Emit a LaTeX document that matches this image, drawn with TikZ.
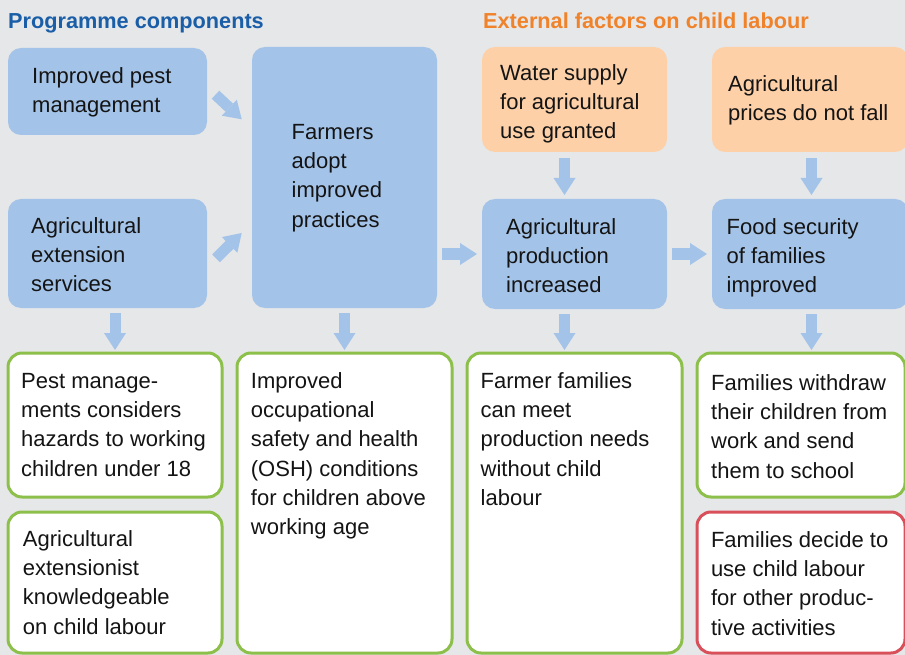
\documentclass[tikz,border=0pt]{standalone}
\usepackage{fontspec}
\setmainfont{Liberation Sans}
\usetikzlibrary{arrows.meta,calc}
\definecolor{bg}{HTML}{E6E7E9}
\definecolor{bfill}{HTML}{A4C3E8}
\definecolor{ofill}{HTML}{FDD0A8}
\definecolor{gline}{HTML}{8CC04B}
\definecolor{rline}{HTML}{D9505A}
\definecolor{hblue}{HTML}{1A5EA8}
\definecolor{horange}{HTML}{F0822A}
\newcommand\firstln{\rule{0pt}{17pt}}
\begin{document}
\begin{tikzpicture}[x=1pt,y=-1pt,
  boxbase/.style={anchor=north west, inner sep=0pt, outer sep=0pt},
  bluebox/.style={boxbase, fill=bfill, draw=none, rounded corners=13pt},
  orangebox/.style={boxbase, fill=ofill, draw=none, rounded corners=13pt},
  greenbox/.style={boxbase, fill=white, draw=gline, line width=3pt, rounded corners=14pt},
  redbox/.style={boxbase, fill=white, draw=rline, line width=3pt, rounded corners=14pt},
  txt/.style={font=\fontsize{22}{29.3}\selectfont, align=left, anchor=north west, inner sep=0pt, text=black!92},
  head/.style={font=\fontsize{21.7}{26}\selectfont\bfseries, anchor=base west, inner sep=0pt},
  barrow/.style={draw=bfill, line width=11pt, -{Triangle[length=17pt,width=22pt,line width=0pt]}, shorten <=5pt, shorten >=4pt}
]
\useasboundingbox (0,0) rectangle (905,655);
\fill[bg] (0,0) rectangle (905,655);
\clip (0,0) rectangle (905,655);

% headings
\node[head, text=hblue] (h1) at (8,29) {Programme components};
\node[head, text=horange] (h2) at (483,29) {External factors on child labour};

% blue / orange boxes
\node[bluebox, minimum width=199pt, minimum height=87pt] (pm) at (8,48) {};
\node[bluebox, minimum width=199pt, minimum height=109pt] (es) at (8,199) {};
\node[bluebox, minimum width=185pt, minimum height=261pt] (fa) at (252,47) {};
\node[orangebox, minimum width=185pt, minimum height=105pt] (ws) at (482,47) {};
\node[orangebox, minimum width=196pt, minimum height=105pt] (ap) at (712,47) {};
\node[bluebox, minimum width=185pt, minimum height=110pt] (pr) at (482,199) {};
\node[bluebox, minimum width=196pt, minimum height=110pt] (fs) at (712,199) {};

% outcome boxes
\node[greenbox, minimum width=214pt, minimum height=144pt] (g1) at (8,353) {};
\node[greenbox, minimum width=215pt, minimum height=300pt] (g2) at (237,353) {};
\node[greenbox, minimum width=215pt, minimum height=300pt] (g3) at (467,353) {};
\node[greenbox, minimum width=208pt, minimum height=144pt] (g4) at (697,353) {};
\node[greenbox, minimum width=214pt, minimum height=141pt] (g5) at (8,512) {};
\node[redbox, minimum width=208pt, minimum height=141pt] (r6) at (697,512) {};

% texts
\node[txt] (tpm) at (32,66) {\firstln Improved pest\\management};
\node[txt] (tes) at (31,216) {\firstln Agricultural\\extension\\services};
\node[txt] (tfa) at (291.5,122) {\firstln Farmers\\adopt\\improved\\practices};
\node[txt] (tws) at (500,63) {\firstln Water supply\\for agricultural\\use granted};
\node[txt] (tap) at (728,74) {\firstln Agricultural\\prices do not fall};
\node[txt] (tpr) at (506,217) {\firstln Agricultural\\production\\increased};
\node[txt] (tfs) at (726.5,217) {\firstln Food security\\of families\\improved};
\node[txt] (tg1) at (21,371) {\firstln Pest manage-\\ments considers\\hazards to working\\children under 18};
\node[txt] (tg2) at (250.7,371) {\firstln Improved\\occupational\\safety and health\\(OSH) conditions\\for children above\\working age};
\node[txt] (tg3) at (480.5,371) {\firstln Farmer families\\can meet\\production needs\\without child\\labour};
\node[txt] (tg4) at (711,373) {\firstln Families withdraw\\their children from\\work and send\\them to school};
\node[txt] (tg5) at (22.7,529) {\firstln Agricultural\\extensionist\\knowledgeable\\on child labour};
\node[txt] (tr6) at (710.8,530) {\firstln Families decide to\\use child labour\\for other produc-\\tive activities};

% arrows
\draw[barrow, shorten <=0pt, shorten >=0pt] ($(pm.east)+(8.5,3.2)$) -- ($(fa.west)+(-10.3,-58.2)$);
\draw[barrow, shorten <=0pt, shorten >=0pt] ($(es.east)+(9,4.8)$) -- ($(fa.west)+(-10.3,55.5)$);
\draw[barrow, shorten >=3pt] (es.south -| g1.north) -- (g1.north);
\draw[barrow, shorten >=3pt] (fa.south) -- (g2.north);
\draw[barrow, shorten >=3pt] ([xshift=-10pt]pr.south) -- ([xshift=-10pt]pr.south |- g3.north);
\draw[barrow, shorten >=3pt] ([xshift=1.5pt]fs.south) -- ([xshift=1.5pt]fs.south |- g4.north);
\draw[barrow, shorten <=6.5pt] ([xshift=-10pt]ws.south) -- ([xshift=-10pt]pr.north);
\draw[barrow, shorten <=6.5pt] ([xshift=1.5pt]ap.south) -- ([xshift=1.5pt]fs.north);
\draw[barrow, shorten >=5pt] (pr.west -| fa.east) -- (pr.west);
\draw[barrow, shorten >=5pt] (pr.east) -- (fs.west);
\end{tikzpicture}
\end{document}
